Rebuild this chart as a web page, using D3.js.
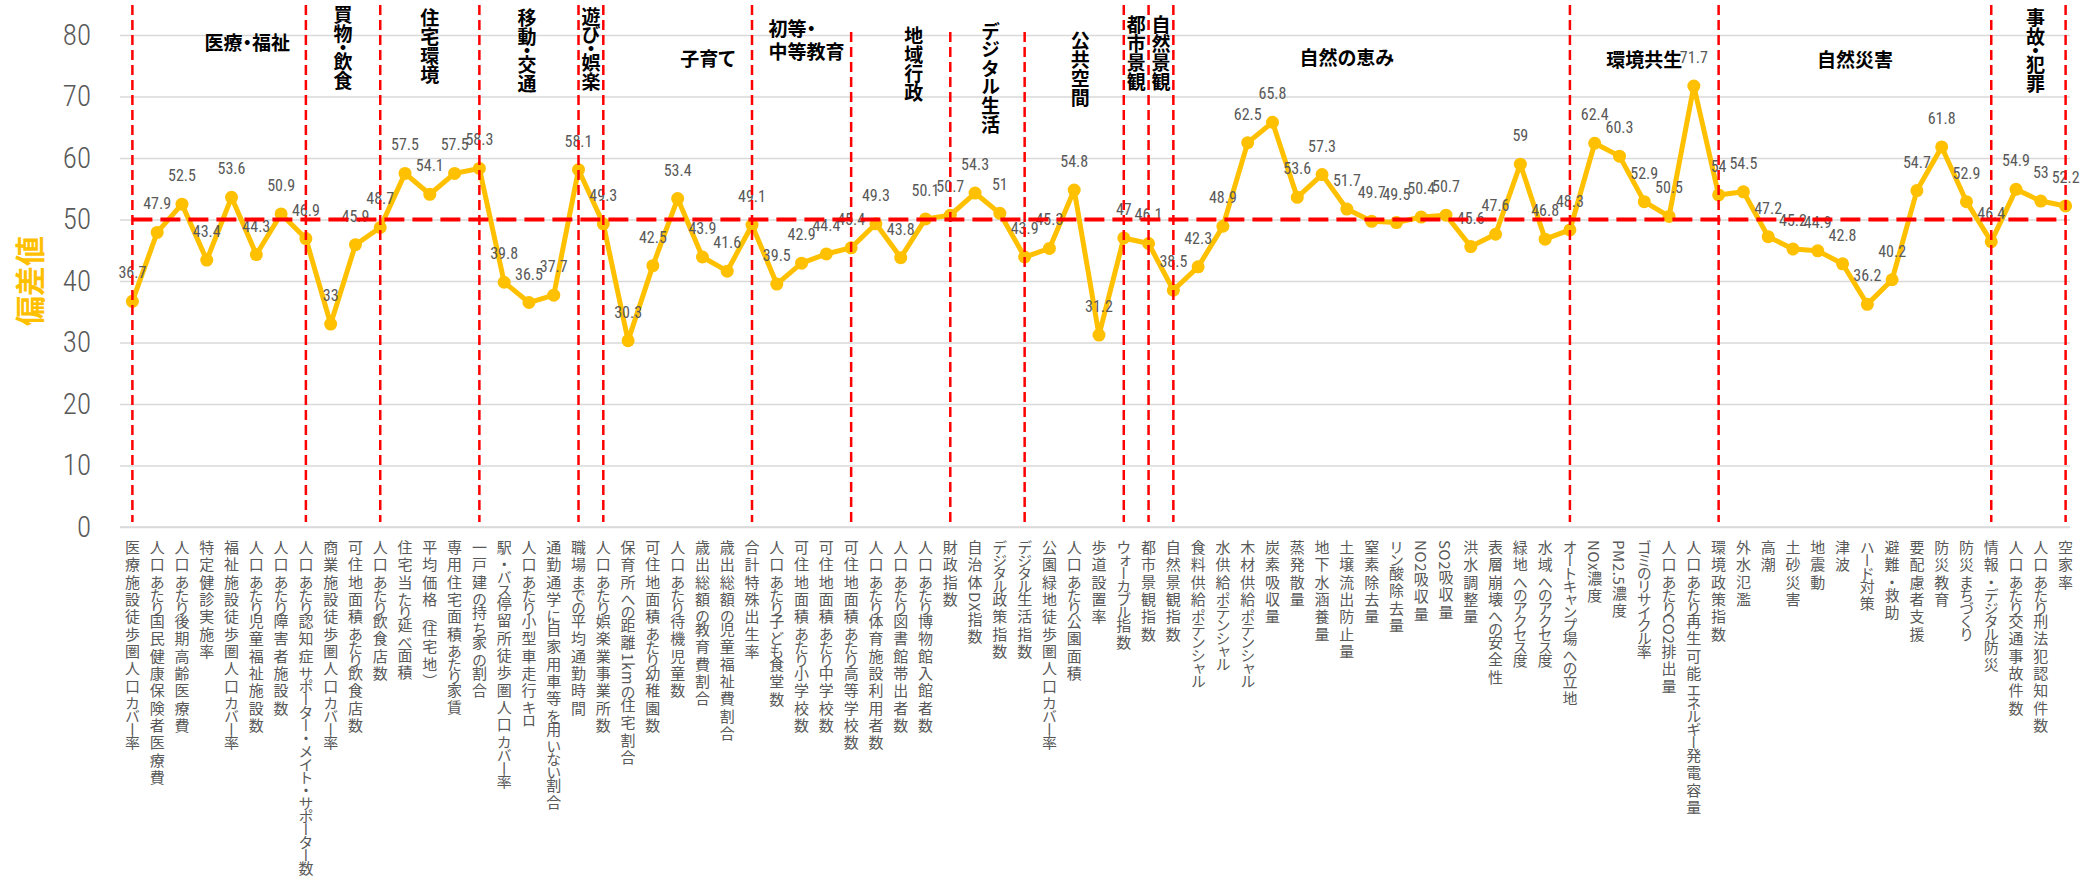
<!DOCTYPE html>
<html><head><meta charset="utf-8">
<script src="https://cdn.jsdelivr.net/npm/d3@7"></script>
<style>
html,body{margin:0;padding:0;background:#fff;overflow:hidden}
</style></head><body>
<svg id="chart" width="2094" height="889"></svg>
<script>
// ---------------- DATA ----------------
const categories = [
 "医療施設徒歩圏人口カバー率","人口あたり国民健康保険者医療費","人口あたり後期高齢医療費","特定健診実施率",
 "福祉施設徒歩圏人口カバー率","人口あたり児童福祉施設数","人口あたり障害者施設数","人口あたり認知症サポーター・メイト・サポーター数",
 "商業施設徒歩圏人口カバー率","可住地面積あたり飲食店数","人口あたり飲食店数",
 "住宅当たり延べ面積","平均価格（住宅地）","専用住宅面積あたり家賃","一戸建の持ち家の割合",
 "駅・バス停留所徒歩圏人口カバー率","人口あたり小型車走行キロ","通勤通学に自家用車等を用いない割合","職場までの平均通勤時間",
 "人口あたり娯楽業事業所数",
 "保育所への距離1kmの住宅割合","可住地面積あたり幼稚園数","人口あたり待機児童数","歳出総額の教育費割合","歳出総額の児童福祉費割合","合計特殊出生率",
 "人口あたり子ども食堂数","可住地面積あたり小学校数","可住地面積あたり中学校数","可住地面積あたり高等学校数",
 "人口あたり体育施設利用者数","人口あたり図書館帯出者数","人口あたり博物館入館者数","財政指数",
 "自治体DX指数","デジタル政策指数","デジタル生活指数",
 "公園緑地徒歩圏人口カバー率","人口あたり公園面積","歩道設置率","ウォーカブル指数",
 "都市景観指数",
 "自然景観指数",
 "食料供給ポテンシャル","水供給ポテンシャル","木材供給ポテンシャル","炭素吸収量","蒸発散量","地下水涵養量","土壌流出防止量",
 "窒素除去量","リン酸除去量","NO2吸収量","SO2吸収量","洪水調整量","表層崩壊への安全性","緑地へのアクセス度","水域へのアクセス度","オートキャンプ場への立地",
 "NOx濃度","PM2.5濃度","ゴミのリサイクル率","人口あたりCO2排出量","人口あたり再生可能エネルギー発電容量","環境政策指数",
 "外水氾濫","高潮","土砂災害","地震動","津波","ハード対策","避難・救助","要配慮者支援","防災教育","防災まちづくり","情報・デジタル防災",
 "人口あたり交通事故件数","人口あたり刑法犯認知件数","空家率"
];
const values = [
 36.7,47.9,52.5,43.4,53.6,44.3,50.9,46.9,
 33,45.9,48.7,
 57.5,54.1,57.5,58.3,
 39.8,36.5,37.7,58.1,
 49.3,
 30.3,42.5,53.4,43.9,41.6,49.1,
 39.5,42.9,44.4,45.4,
 49.3,43.8,50.1,50.7,
 54.3,51,43.9,
 45.3,54.8,31.2,47,
 46.1,
 38.5,
 42.3,48.9,62.5,65.8,53.6,57.3,51.7,49.7,49.5,50.4,50.7,45.6,47.6,59,46.8,48.3,
 62.4,60.3,52.9,50.5,71.7,54,
 54.5,47.2,45.2,44.9,42.8,36.2,40.2,54.7,61.8,52.9,46.4,
 54.9,53,52.2
];
const groupNames = ["医療・福祉","買物・飲食","住宅環境","移動・交通","遊び・娯楽","子育て","初等・中等教育","地域行政",
 "デジタル生活","公共空間","都市景観","自然景観","自然の恵み","環境共生","自然災害","事故・犯罪"];
const groupSizes = [8,3,4,4,1,6,4,4,3,4,1,1,16,6,11,3];
const yTicks = [0,10,20,30,40,50,60,70,80];
const referenceValue = 50;
const yTitle = "偏差値";

// ---------------- LAYOUT ----------------
const W = 2094, H = 889;
const plotLeft = 120, plotRight = 2078, plotTop = 35, plotBottom = 527;
const gold = "#FFC000", red = "#FF0000", grey = "#595959";
const numFont = "'Roboto Condensed','Liberation Sans Narrow','DejaVu Sans Condensed',sans-serif";

const svg = d3.select("#chart");
svg.append("rect").attr("width", W).attr("height", H).attr("fill", "#fff");

const x = d3.scaleBand().domain(categories).range([plotLeft, plotRight]).padding(0);
const y = d3.scaleLinear().domain([0, 80]).range([plotBottom, plotTop]);
const cx = c => x(c) + x.bandwidth() / 2;

// gridlines
svg.append("g").attr("transform", `translate(${plotLeft},0)`)
  .call(d3.axisLeft(y).tickValues(yTicks).tickSize(-(plotRight - plotLeft - 8)).tickFormat(""))
  .call(g => g.select(".domain").remove())
  .call(g => g.selectAll("line").attr("stroke", "#d9d9d9").attr("stroke-width", 1.5));

// y axis labels
svg.append("g").attr("transform", `translate(${plotLeft},0)`)
  .call(d3.axisLeft(y).tickValues(yTicks).tickSize(0).tickPadding(29))
  .call(g => g.select(".domain").remove())
  .call(g => g.selectAll("text")
     .attr("fill", grey)
     .style("font-family", numFont).style("font-weight", "300")
     .style("font-size", "29px"));

// x axis
const charClass = ch => /[\u3040-\u30FF\u3000-\u303F\uFF00-\uFFEF]/.test(ch) ? "k"
                      : /[\u0000-\u007F]/.test(ch) ? "l" : "h";
const spacing = {k: "-2px", l: "0.6px", h: "2.3px"};
svg.append("g").attr("transform", `translate(0,${plotBottom})`)
  .call(d3.axisBottom(x).tickSize(0).tickPadding(0))
  .call(g => g.select(".domain").attr("stroke", "#d9d9d9").attr("stroke-width", 1.5)
              .attr("d", `M${plotLeft},0H${plotRight - 8}`))
  .call(g => g.selectAll("text")
     .attr("y", 13).attr("dy", null).attr("x", 0)
     .attr("text-anchor", "start")
     .attr("fill", grey)
     .style("writing-mode", "vertical-rl")
     .style("text-orientation", "mixed")
     .style("font-family", "'Noto Sans CJK JP',sans-serif")
     .style("font-size", "15px")
     .each(function(d) {
        const t = d3.select(this);
        t.text(null);
        const runs = [];
        for (const ch of d) {
          const c = charClass(ch);
          if (runs.length && runs[runs.length - 1].c === c) runs[runs.length - 1].s += ch;
          else runs.push({c, s: ch});
        }
        runs.forEach(r => t.append("tspan").style("letter-spacing", spacing[r.c]).text(r.s));
     }));

// y title
svg.append("text")
  .attr("transform", `translate(28,${(plotTop + plotBottom) / 2}) rotate(-90)`)
  .attr("text-anchor", "middle").attr("dominant-baseline", "central")
  .attr("fill", gold)
  .style("font-family", "'Noto Sans CJK JP',sans-serif")
  .style("font-weight", "700").style("font-size", "30px")
  .text(yTitle);

// series
const pts = values.map((v, i) => ({c: categories[i], v}));
svg.append("path").datum(pts)
  .attr("fill", "none").attr("stroke", gold).attr("stroke-width", 5).attr("stroke-linejoin", "round")
  .attr("d", d3.line().x(d => cx(d.c)).y(d => y(d.v)));
svg.append("g").selectAll("circle").data(pts).join("circle")
  .attr("cx", d => cx(d.c)).attr("cy", d => y(d.v)).attr("r", 6.5).attr("fill", gold);

// data labels
svg.append("g").selectAll("text").data(pts).join("text")
  .attr("x", d => cx(d.c)).attr("y", d => y(d.v) - 23)
  .attr("text-anchor", "middle").attr("fill", grey)
  .style("font-family", numFont).style("font-weight", "400")
  .style("font-size", "16px")
  .text(d => String(d.v));

// group boundaries
const ends = [];
let acc = 0;
groupSizes.forEach(s => { acc += s; ends.push(acc - 1); });
const boundaryIdx = [0, ...ends];
const shortTop = new Set([29, 33, 36]);
const vg = svg.append("g");
boundaryIdx.forEach(i => {
  const xx = cx(categories[i]);
  vg.append("line").attr("x1", xx).attr("x2", xx)
    .attr("y1", shortTop.has(i) ? 32 : 5).attr("y2", plotBottom - 5)
    .attr("stroke", red).attr("stroke-width", 2.5).attr("stroke-dasharray", "10,5");
});
// reference line
vg.append("line")
  .attr("x1", cx(categories[0])).attr("x2", cx(categories[categories.length - 1]))
  .attr("y1", y(referenceValue)).attr("y2", y(referenceValue))
  .attr("stroke", red).attr("stroke-width", 4).attr("stroke-dasharray", "20,8");

// group titles
const titleLayout = [
  {mode: "h", dx: 28, y: 41},
  {mode: "v", dx: 0, top: 5},
  {mode: "v", dx: 0, top: 8},
  {mode: "v", dx: -2, top: 8},
  {mode: "v", dx: 0, top: 7},
  {mode: "h", dx: 30, y: 57},
  {mode: "h2", dx: -33, y: [27, 50], split: 3},
  {mode: "v", dx: 13, top: 26},
  {mode: "v", dx: 3, top: 22},
  {mode: "v", dx: 6, top: 31},
  {mode: "v", dx: 0, top: 15},
  {mode: "v", dx: 0, top: 15},
  {mode: "h", dx: -25, y: 56},
  {mode: "h", dx: 0, y: 58},
  {mode: "h", dx: 0, y: 58},
  {mode: "v", dx: 7, top: 8}
];
const tg = svg.append("g")
  .style("font-family", "'Noto Sans CJK JP',sans-serif")
  .style("font-weight", "700").style("font-size", "19px").attr("fill", "#000");
groupNames.forEach((name, gi) => {
  const a = cx(categories[boundaryIdx[gi]]);
  const b = cx(categories[boundaryIdx[gi + 1]]);
  const L = titleLayout[gi];
  const mid = (a + b) / 2 + L.dx;
  if (L.mode === "h") {
    tg.append("text").attr("x", mid).attr("y", L.y)
      .attr("text-anchor", "middle").attr("dominant-baseline", "central")
      .style("font-feature-settings", "'palt'").text(name);
  } else if (L.mode === "h2") {
    [name.slice(0, L.split), name.slice(L.split)].forEach((t, k) => {
      tg.append("text").attr("x", mid).attr("y", L.y[k])
        .attr("text-anchor", "start").attr("dominant-baseline", "central")
        .style("font-feature-settings", "'palt'").text(t);
    });
  } else {
    tg.append("text").attr("x", mid).attr("y", L.top)
      .attr("text-anchor", "start")
      .style("writing-mode", "vertical-rl").style("text-orientation", "mixed")
      .style("font-feature-settings", "'vpal'").text(name);
  }
});
</script>
</body></html>
